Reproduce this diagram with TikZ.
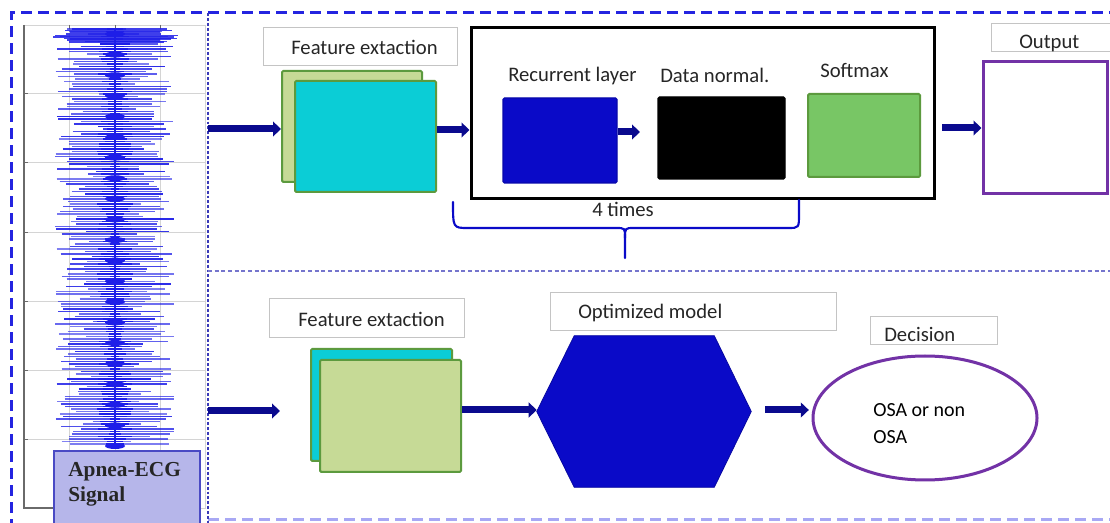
\documentclass[tikz,border=0pt]{standalone}
\usepackage{fontspec}
\setmainfont{Carlito}
\newfontfamily\serifbold{Liberation Serif}
\usetikzlibrary{arrows.meta,fit,calc,shapes.geometric}

\definecolor{framebl}{HTML}{2424E0}
\definecolor{framelt}{HTML}{A8A8F4}
\definecolor{sepbl}{HTML}{3A3AB8}
\definecolor{arrownavy}{HTML}{0A0A8E}
\definecolor{deepblue}{HTML}{0A0AC8}
\definecolor{cyanbox}{HTML}{0BCDD6}
\definecolor{palegreen}{HTML}{C6DA96}
\definecolor{edgegreen}{HTML}{5C9A3E}
\definecolor{softgreen}{HTML}{78C665}
\definecolor{violetline}{HTML}{7232A6}
\definecolor{lblgray}{HTML}{C4C4C4}
\definecolor{txtgray}{HTML}{262626}
\definecolor{sigblue}{HTML}{1E1EE8}
\definecolor{lavender}{HTML}{B6B6EA}
\definecolor{lavedge}{HTML}{4A4AC4}
\definecolor{gridgray}{HTML}{D4D4D4}
\definecolor{axisgray}{HTML}{6A6A6A}

\tikzset{
  layer/.style={inner sep=0pt, line width=1.5pt, rounded corners=1pt},
  lbl/.style={draw=lblgray, line width=0.75pt, inner sep=0pt},
  caption/.style={font=\fontsize{15.5}{18}\selectfont, text=txtgray, anchor=base west, inner sep=0pt},
  flow/.style={draw=arrownavy, line width=5.25pt, -{Triangle[length=6pt,width=11pt]}},
  dashframe/.style={line width=2.25pt, dash pattern=on 8.25pt off 4.5pt},
  dotsep/.style={draw=sepbl, line width=0.8pt, dash pattern=on 2.2pt off 1.5pt},
}

\begin{document}
\begin{tikzpicture}[x=0.75pt,y=-0.75pt]
\useasboundingbox (0,0) rectangle (1110,523);
\fill[white] (0,0) rectangle (1110,523);

% ---------- ECG trace panel ----------
\draw[gridgray, line width=0.5pt] (24,25) rectangle (205,508);
\foreach \gy in {93,162,232,301,370,439}{
  \draw[gridgray, line width=0.5pt] (24,\gy) -- (205,\gy);
  \draw[axisgray, line width=0.6pt] (24,\gy) -- (28,\gy);
}
\foreach \gx in {69,115,160}{
  \draw[gridgray, line width=0.5pt] (\gx,25) -- (\gx,508);
  \draw[axisgray, line width=0.6pt] (\gx,25) -- (\gx,29);
}
\draw[axisgray, line width=0.8pt] (24,25) -- (24,508) -- (60,508);

\pgfmathsetseed{31}
\foreach \k in {0,...,166}{
  \pgfmathsetmacro\yy{29+2.5*\k}
  \pgfmathsetmacro\wl{8+52*sqrt(rnd)}
  \pgfmathsetmacro\wr{8+52*sqrt(rnd)}
  \pgfmathsetmacro\op{0.55+0.4*rnd}
  \pgfmathsetmacro\wc{4+14*rnd}
  \draw[sigblue, line width=1.05pt, opacity=\op] (115-\wl,\yy) -- (115+\wr,\yy);
  \draw[sigblue, line width=1.4pt] (115-\wc,\yy) -- (115+\wc,\yy);
}
\foreach \k in {0,...,8}{
  \pgfmathsetmacro\yy{29+1.6*\k}
  \pgfmathsetmacro\wl{40+25*rnd}
  \pgfmathsetmacro\wr{40+25*rnd}
  \draw[sigblue, line width=1.2pt, opacity=0.85] (115-\wl,\yy) -- (115+\wr,\yy);
}
\foreach \k in {0,...,20}{
  \fill[sigblue] (115,34+20.6*\k) ellipse [x radius=10, y radius=3];
}
\draw[sigblue, line width=2.2pt] (115,28) -- (115,446);

\node[fit={(54,451)(200,526)}, fill=lavender, draw=lavedge, line width=1pt, inner sep=0pt] (ecgbox) {};
\node[anchor=base west, inner sep=0pt, text=black!85, font=\serifbold\bfseries\fontsize{16}{18}\selectfont] (ecgt1) at (68,477) {Apnea-ECG};
\node[anchor=base west, inner sep=0pt, text=black!85, font=\serifbold\bfseries\fontsize{16}{18}\selectfont] (ecgt2) at (68,502) {Signal};

% ---------- frames and separators ----------
\draw[framebl, dashframe] (11,530) -- (11,13) -- (1120,13);
\draw[framelt, dashframe] (208,520) -- (1120,520);
\draw[dotsep] (208,13) -- (208,523);
\draw[draw=sepbl!70, line width=0.8pt, dash pattern=on 3pt off 2pt] (208,271) -- (1110,271);

% ---------- upper branch ----------
\node[lbl, fit={(263,28)(457,66)}] (lblA) {};
\node[caption] (capA) at (291,55) {Feature extaction};
\node[layer, fill=palegreen, draw=edgegreen, fit={(282,71)(422,182)}] (feAback) {};
\node[layer, fill=cyanbox, draw=edgegreen, fit={(295,81)(436,192)}] (feAfront) {};

\node[inner sep=0pt, draw=black, line width=2.25pt, fit={(471,28)(934,199)}] (rnn) {};
\node[caption] (capRec) at (508,82) {Recurrent layer};
\node[caption] (capNorm) at (660,83) {Data normal.};
\node[caption] (capSoft) at (820,78) {Softmax};
\node[layer, fill=deepblue, draw=deepblue!85!black, line width=0.8pt, fit={(503,98)(617,183)}] (rec) {};
\node[layer, fill=black, draw=black, line width=0.8pt, fit={(658,97)(785,179)}] (dnorm) {};
\node[layer, fill=softgreen, draw=edgegreen, fit={(808,94)(920,177)}] (smax) {};

\node[lbl, fit={(991,24)(1125,52)}] (lblOut) {};
\node[caption] (capOut) at (1019,49) {Output};
\node[inner sep=0pt, draw=violetline, line width=2.25pt, fit={(983,62)(1107,194)}] (out) {};

\coordinate (rowA) at (0,129);
\coordinate (rowB) at (0,130);
\coordinate (rowC) at (0,132);
\coordinate (rowD) at (0,128);
\coordinate (srcA) at (208,129);
\coordinate (tipC) at (640,132);
\draw[flow] (srcA) -- (feAback.west |- rowA);
\draw[flow] (feAfront.east |- rowB) -- (rnn.west |- rowB);
\draw[flow] (rec.east |- rowC) -- (tipC);
\draw[flow, shorten <=5pt] (rnn.east |- rowD) -- (out.west |- rowD);

% repetition brace
\draw[deepblue, line width=1.6pt, line cap=round]
  (453,202) .. controls (453,228) .. (468,228) -- (616,228)
  .. controls (625,228) .. (625,238) -- (625,258);
\draw[deepblue, line width=1.6pt, line cap=round]
  (625,238) .. controls (625,228) .. (634,228) -- (788,228)
  .. controls (799,228) .. (799,214) -- (799,200);
\node[caption] (capTimes) at (592,217) {4 times};

% ---------- lower branch ----------
\node[lbl, fit={(269,299)(464,338)}] (lblB) {};
\node[caption] (capB) at (298,327) {Feature extaction};
\node[layer, fill=cyanbox, draw=edgegreen, fit={(311,349)(452,461)}] (feBback) {};
\node[layer, fill=palegreen, draw=edgegreen, fit={(320,360)(461,472)}] (feBfront) {};

\node[lbl, fit={(550,293)(836,331)}] (lblOpt) {};
\node[caption] (capOpt) at (578,319) {Optimized model};
\node[inner sep=0pt, fit={(537,336)(751,487)}] (hex) {};
\fill[deepblue, draw=deepblue!80!black, line width=0.6pt]
  (hex.west) -- ($(hex.north west)+(37.5,0)$) -- ($(hex.north east)+(-37,0)$)
  -- (hex.east) -- ($(hex.south east)+(-37,0)$) -- ($(hex.south west)+(37.5,0)$) -- cycle;

\node[lbl, fit={(870,317)(997,345)}] (lblDec) {};
\node[caption] (capDec) at (884,342) {Decision};
\node[ellipse, draw=violetline, line width=2.25pt, minimum width=168pt, minimum height=93pt, inner sep=0pt] (dec) at (925,418) {};
\node[caption, text=black, font=\fontsize{15}{18}\selectfont] (osa1) at (873,417) {OSA or non};
\node[caption, text=black, font=\fontsize{15}{18}\selectfont] (osa2) at (873,444) {OSA};

\coordinate (rowE) at (0,410);
\coordinate (srcB) at (208,411);
\coordinate (tipB) at (280,411);
\draw[flow] (srcB) -- (tipB);
\draw[flow] (feBfront.east |- rowE) -- (hex.west |- rowE);
\draw[flow, shorten <=10.5pt, shorten >=2pt] (hex.east |- rowE) -- (dec.west |- rowE);

\end{tikzpicture}
\end{document}
